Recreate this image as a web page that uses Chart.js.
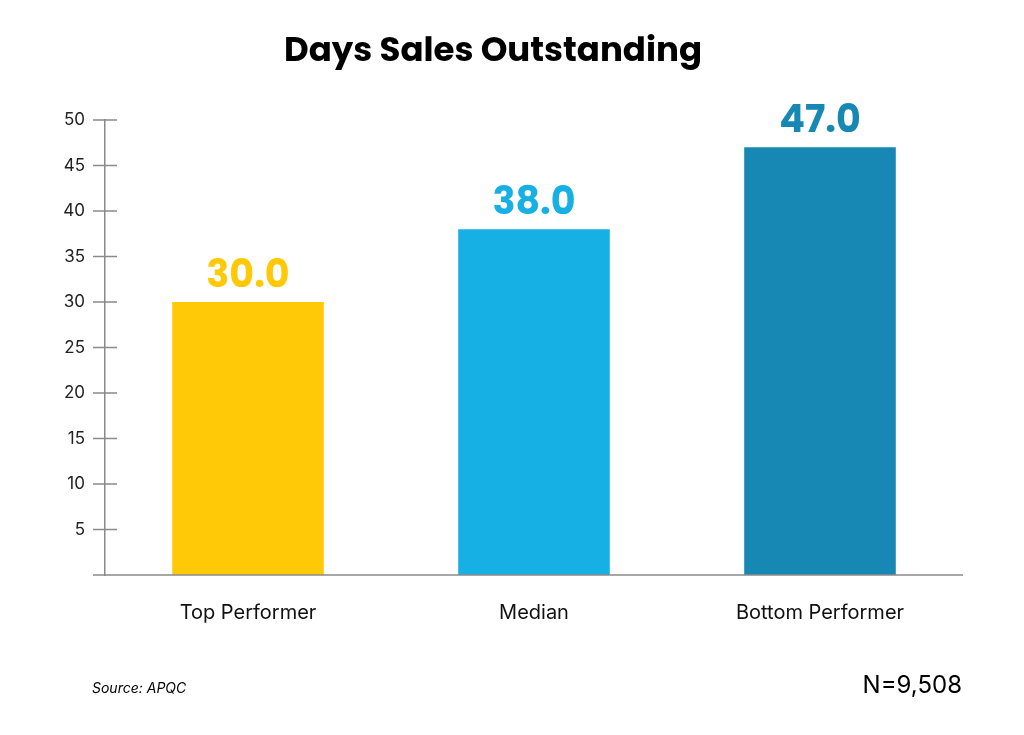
<!DOCTYPE html>
<html><head><meta charset="utf-8">
<script src="https://cdn.jsdelivr.net/npm/chart.js@4/dist/chart.umd.min.js"></script>
<style>body{margin:0;background:#fff}#wrap{width:1024px;height:735px;position:relative}</style>
</head><body><div id="wrap"><canvas id="c"></canvas></div>
<script>
var categories = ['Top Performer', 'Median', 'Bottom Performer'];
var values = [30.0, 38.0, 47.0];
var barColors = ['#FFC907', '#16B0E5', '#1688B3'];
var yTicks = [5, 10, 15, 20, 25, 30, 35, 40, 45, 50];

var axisColor = '#8a8a8a';

var decor = {
  id: 'decor',
  afterDraw: function(chart) {
    var ctx = chart.ctx, a = chart.chartArea, y = chart.scales.y, x = chart.scales.x;
    ctx.save();
    ctx.strokeStyle = axisColor; ctx.lineWidth = 1.5;
    // y tick marks crossing the axis
    yTicks.forEach(function(v) {
      var py = y.getPixelForValue(v);
      ctx.beginPath(); ctx.moveTo(a.left - 12, py); ctx.lineTo(a.left + 12, py); ctx.stroke();
    });
    ctx.beginPath(); ctx.moveTo(a.left - 12, a.bottom); ctx.lineTo(a.right, a.bottom); ctx.stroke();
    // value labels
    ctx.font = 'bold 38px Poppins, Inter, sans-serif';
    ctx.textAlign = 'center'; ctx.textBaseline = 'bottom';
    values.forEach(function(v, i) {
      ctx.fillStyle = barColors[i];
      ctx.fillText(v.toFixed(1), x.getPixelForValue(i), y.getPixelForValue(v) - 6);
    });
    // title
    ctx.fillStyle = '#000';
    ctx.font = 'bold 34px Poppins, Inter, sans-serif';
    ctx.textBaseline = 'middle';
    ctx.fillText('Days Sales Outstanding', 493, 52);
    // footer
    ctx.textAlign = 'left';
    ctx.font = 'italic 14px Inter, sans-serif';
    ctx.fillText('Source: APQC', 92, 689);
    ctx.textAlign = 'right';
    ctx.font = '24px Inter, sans-serif';
    ctx.fillText('N=9,508', 962, 686);
    ctx.restore();
  }
};

new Chart(document.getElementById('c'), {
  type: 'bar',
  data: {
    labels: categories,
    datasets: [{ data: values, backgroundColor: barColors, categoryPercentage: 0.53, barPercentage: 1 }]
  },
  options: {
    responsive: true, maintainAspectRatio: false, animation: false,
    layout: { padding: { top: 120, right: 61, bottom: 0, left: 0 } },
    plugins: { legend: { display: false }, tooltip: { enabled: false } },
    scales: {
      x: {
        grid: { display: false }, border: { display: false },
        ticks: { color: '#111', font: { size: 20, family: 'Inter, sans-serif' }, padding: 18 },
        afterFit: function(s) { s.height = 160; }
      },
      y: {
        min: 0, max: 50,
        grid: { display: false, drawTicks: false },
        border: { display: true, color: axisColor, width: 1.5 },
        ticks: {
          stepSize: 5, padding: 20, color: '#222',
          font: { size: 17, family: 'Inter, sans-serif' },
          callback: function(v) { return v === 0 ? '' : v; }
        },
        afterFit: function(s) { s.width = 105; }
      }
    }
  },
  plugins: [decor]
});
</script></body></html>
